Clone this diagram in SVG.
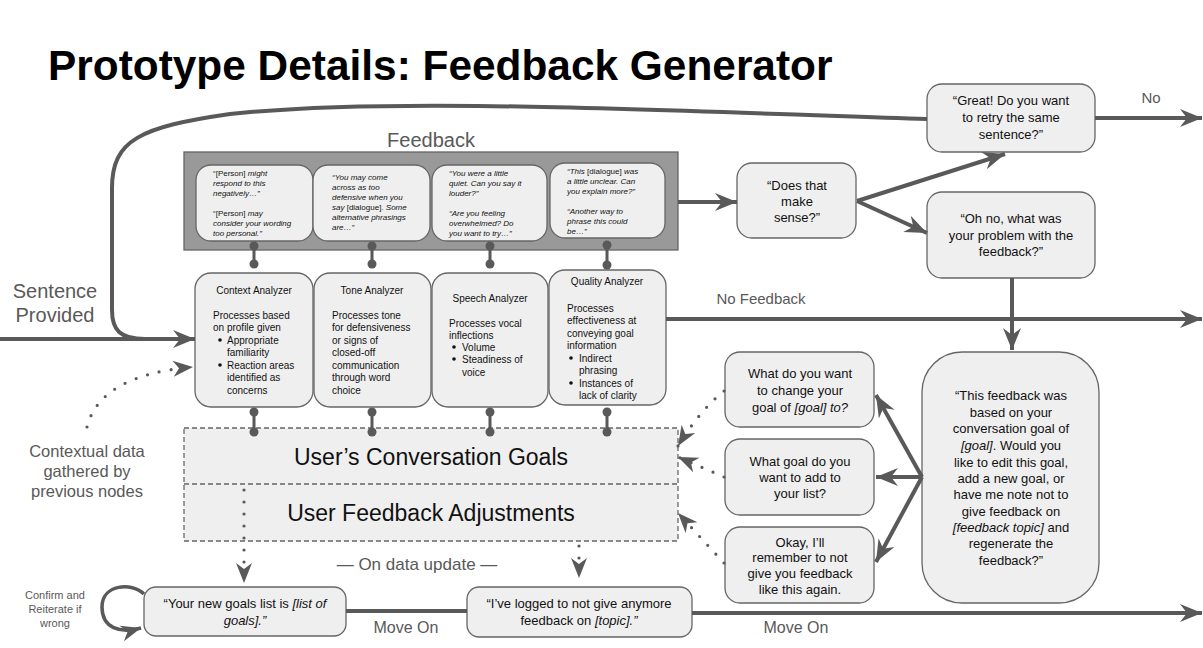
<svg xmlns="http://www.w3.org/2000/svg" width="1203" height="648" viewBox="0 0 1203 648">
<defs>
<style>
.box{fill:#efefef;stroke:#666;stroke-width:1.3}
.t{font-family:"Liberation Sans",Arial,sans-serif;fill:#111}
.c{text-anchor:middle}
.i{font-style:italic}
.n{font-style:normal}
.lbl{font-family:"Liberation Sans",Arial,sans-serif;fill:#595959}
.ln{fill:none;stroke:#595959;stroke-width:4}
.ln3{fill:none;stroke:#595959;stroke-width:3.5}
.dot{fill:none;stroke:#595959;stroke-width:3.2;stroke-dasharray:0 12;stroke-linecap:round}
.pin{fill:#595959}
</style>
<marker id="ah" markerUnits="userSpaceOnUse" markerWidth="24" markerHeight="20" viewBox="0 0 24 20" refX="22" refY="10" orient="auto"><path d="M0,1 L22,10 L0,19 L7,10 z" fill="#595959"/></marker>
<marker id="ahs" markerUnits="userSpaceOnUse" markerWidth="22" markerHeight="18" viewBox="0 0 22 18" refX="20" refY="9" orient="auto"><path d="M0,1 L20,9 L0,17 L6,9 z" fill="#595959"/></marker>
</defs>
<rect width="1203" height="648" fill="#fff"/>
<text x="48" y="80" font-family="Liberation Sans,Arial,sans-serif" font-weight="bold" font-size="42.4" fill="#000">Prototype Details: Feedback Generator</text>

<g id="labels">
<text class="lbl c" x="55" y="298" font-size="20">Sentence</text>
<text class="lbl c" x="55" y="322" font-size="20">Provided</text>
<text class="lbl c" x="431" y="147" font-size="20">Feedback</text>
<text class="lbl c" x="1151" y="103" font-size="15">No</text>
<text class="lbl c" x="761" y="304" font-size="15">No Feedback</text>
<text class="lbl c" x="87" y="457" font-size="16.5">Contextual data</text>
<text class="lbl c" x="87" y="477" font-size="16.5">gathered by</text>
<text class="lbl c" x="87" y="497" font-size="16.5">previous nodes</text>
<text class="lbl c" x="417" y="570" font-size="17">— On data update —</text>
<text class="lbl c" x="406" y="633" font-size="16">Move On</text>
<text class="lbl c" x="796" y="633" font-size="16">Move On</text>
<text class="lbl c" x="55" y="599" font-size="11">Confirm and</text>
<text class="lbl c" x="55" y="613" font-size="11">Reiterate if</text>
<text class="lbl c" x="55" y="627" font-size="11">wrong</text>
</g>

<g id="feedback">
<rect x="184" y="152" width="494" height="98" fill="#999" stroke="#666" stroke-width="1.3"/>
<rect class="box" x="196" y="165" width="117" height="76" rx="15"/>
<rect class="box" x="313" y="165" width="117" height="76" rx="15"/>
<rect class="box" x="432" y="165" width="115" height="76" rx="15"/>
<rect class="box" x="550" y="163" width="115" height="75" rx="15"/>
<g class="t i" font-size="8" fill="#222">
<text x="213" y="176"><tspan class="n">“[Person]</tspan> might</text>
<text x="213" y="186">respond to this</text>
<text x="213" y="196">negatively…”</text>
<text x="213" y="216"><tspan class="n">“[Person]</tspan> may</text>
<text x="213" y="226">consider your wording</text>
<text x="213" y="236">too personal.”</text>
<text x="332" y="180">“You may come</text>
<text x="332" y="190">across as too</text>
<text x="332" y="200">defensive when you</text>
<text x="332" y="210">say <tspan class="n">[dialogue]</tspan>. Some</text>
<text x="332" y="220">alternative phrasings</text>
<text x="332" y="230">are…”</text>
<text x="449" y="176">“You were a little</text>
<text x="449" y="186">quiet. Can you say it</text>
<text x="449" y="196">louder?”</text>
<text x="449" y="216">“Are you feeling</text>
<text x="449" y="226">overwhelmed? Do</text>
<text x="449" y="236">you want to try…”</text>
<text x="567" y="174">“This <tspan class="n">[dialogue]</tspan> was</text>
<text x="567" y="184">a little unclear. Can</text>
<text x="567" y="194">you explain more?”</text>
<text x="567" y="214">“Another way to</text>
<text x="567" y="224">phrase this could</text>
<text x="567" y="234">be…”</text>
</g>
</g>

<g id="context-analyzer">
<rect class="box" x="195" y="273" width="118" height="134" rx="16"/>
<g class="t" font-size="10">
<text class="c" x="254" y="294">Context Analyzer</text>
<text x="213" y="319">Processes based</text>
<text x="213" y="331">on profile given</text>
<circle cx="220" cy="340" r="1.8" fill="#111"/>
<text x="227" y="344">Appropriate</text>
<text x="227" y="356">familiarity</text>
<circle cx="220" cy="365" r="1.8" fill="#111"/>
<text x="227" y="369">Reaction areas</text>
<text x="227" y="381">identified as</text>
<text x="227" y="394">concerns</text>
</g>
</g>
<g id="tone-analyzer">
<rect class="box" x="314" y="273" width="117" height="134" rx="16"/>
<g class="t" font-size="10">
<text class="c" x="372" y="294">Tone Analyzer</text>
<text x="332" y="319">Processes tone</text>
<text x="332" y="331">for defensiveness</text>
<text x="332" y="344">or signs of</text>
<text x="332" y="356">closed-off</text>
<text x="332" y="369">communication</text>
<text x="332" y="381">through word</text>
<text x="332" y="394">choice</text>
</g>
</g>
<g id="speech-analyzer">
<rect class="box" x="432" y="273" width="116" height="134" rx="16"/>
<g class="t" font-size="10">
<text class="c" x="490" y="302">Speech Analyzer</text>
<text x="449" y="327">Processes vocal</text>
<text x="449" y="339">inflections</text>
<circle cx="454" cy="347" r="1.8" fill="#111"/>
<text x="462" y="351">Volume</text>
<circle cx="454" cy="359" r="1.8" fill="#111"/>
<text x="462" y="363">Steadiness of</text>
<text x="462" y="376">voice</text>
</g>
</g>
<g id="quality-analyzer">
<rect class="box" x="549" y="270" width="117" height="135" rx="16"/>
<g class="t" font-size="10">
<text class="c" x="607" y="285">Quality Analyzer</text>
<text x="567" y="312">Processes</text>
<text x="567" y="324">effectiveness at</text>
<text x="567" y="337">conveying goal</text>
<text x="567" y="349">information</text>
<circle cx="571" cy="358" r="1.8" fill="#111"/>
<text x="579" y="362">Indirect</text>
<text x="579" y="374">phrasing</text>
<circle cx="571" cy="383" r="1.8" fill="#111"/>
<text x="579" y="387">Instances of</text>
<text x="579" y="399">lack of clarity</text>
</g>
</g>

<g id="user-data">
<rect x="184" y="428" width="494" height="113" fill="#efefef" stroke="#666" stroke-width="1.3" stroke-dasharray="5 3"/>
<line x1="184" y1="484" x2="678" y2="484" stroke="#666" stroke-width="1.3" stroke-dasharray="5 3"/>
<text class="t c" x="431" y="465" font-size="23">User’s Conversation Goals</text>
<text class="t c" x="431" y="521" font-size="23">User Feedback Adjustments</text>
</g>

<g id="does-that-make-sense">
<rect class="box" x="737" y="163" width="119" height="75" rx="15"/>
<g class="t c" font-size="13">
<text x="797" y="190">“Does that</text>
<text x="797" y="206">make</text>
<text x="797" y="222">sense?”</text>
</g>
</g>
<g id="great">
<rect class="box" x="927" y="84" width="168" height="68" rx="15"/>
<g class="t c" font-size="13">
<text x="1011" y="105">“Great! Do you want</text>
<text x="1011" y="122">to retry the same</text>
<text x="1011" y="139">sentence?”</text>
</g>
</g>
<g id="oh-no">
<rect class="box" x="927" y="192" width="168" height="86" rx="15"/>
<g class="t c" font-size="13">
<text x="1011" y="223">“Oh no, what was</text>
<text x="1011" y="240">your problem with the</text>
<text x="1011" y="256">feedback?”</text>
</g>
</g>
<g id="this-feedback">
<rect class="box" x="922" y="352" width="177" height="251" rx="40"/>
<g class="t c" font-size="13">
<text x="1011" y="400">“This feedback was</text>
<text x="1011" y="417">based on your</text>
<text x="1011" y="433">conversation goal of</text>
<text x="1011" y="450"><tspan class="i">[goal]</tspan>. Would you</text>
<text x="1011" y="467">like to edit this goal,</text>
<text x="1011" y="483">add a new goal, or</text>
<text x="1011" y="499">have me note not to</text>
<text x="1011" y="516">give feedback on</text>
<text x="1011" y="532"><tspan class="i">[feedback topic]</tspan> and</text>
<text x="1011" y="548">regenerate the</text>
<text x="1011" y="565">feedback?”</text>
</g>
</g>
<g id="change-goal">
<rect class="box" x="725" y="352" width="149" height="75" rx="15"/>
<g class="t c" font-size="13">
<text x="800" y="378">What do you want</text>
<text x="800" y="395">to change your</text>
<text x="800" y="412">goal of <tspan class="i">[goal] to?</tspan></text>
</g>
</g>
<g id="add-goal">
<rect class="box" x="725" y="439" width="149" height="76" rx="15"/>
<g class="t c" font-size="13">
<text x="800" y="466">What goal do you</text>
<text x="800" y="482">want to add to</text>
<text x="800" y="498">your list?</text>
</g>
</g>
<g id="remember">
<rect class="box" x="725" y="527" width="149" height="76" rx="15"/>
<g class="t c" font-size="13">
<text x="800" y="547">Okay, I’ll</text>
<text x="800" y="562">remember to not</text>
<text x="800" y="578">give you feedback</text>
<text x="800" y="594">like this again.</text>
</g>
</g>
<g id="new-goals-list">
<rect class="box" x="144" y="587" width="202" height="49" rx="12"/>
<g class="t c" font-size="13">
<text x="245" y="608">“Your new goals list is <tspan class="i">[list of</tspan></text>
<text x="245" y="625" class="i">goals].”</text>
</g>
</g>
<g id="logged">
<rect class="box" x="467" y="587" width="225" height="50" rx="12"/>
<g class="t c" font-size="13">
<text x="579" y="608">“I’ve logged to not give anymore</text>
<text x="579" y="625">feedback on <tspan class="i">[topic].”</tspan></text>
</g>
</g>

<g id="connectors">
<path class="ln" d="M0,339 L195,339" marker-end="url(#ah)"/>
<path class="ln" d="M145,339 C120,339 112,330 112,310 L112,188 C112,140 140,127 230,114 C380,98 600,108 927,119"/>
<path class="dot" d="M87,427 Q100,375 193,367" marker-end="url(#ahs)"/>
<path class="ln" d="M678,202 L737,202" marker-end="url(#ah)"/>
<path class="ln" d="M857,201 L1005,154" marker-end="url(#ah)"/>
<path class="ln" d="M857,201 L927,233" marker-end="url(#ah)"/>
<path class="ln" d="M1095,118 L1202,118" marker-end="url(#ah)"/>
<path class="ln" d="M666,319 L1202,319" marker-end="url(#ah)"/>
<path class="ln" d="M1012,278 L1012,350" marker-end="url(#ah)"/>
<path class="ln" d="M922,477 L876,395" marker-end="url(#ah)"/>
<path class="ln" d="M922,477 L876,477" marker-end="url(#ah)"/>
<path class="ln" d="M922,477 L876,562" marker-end="url(#ah)"/>
<path class="dot" d="M724,391 Q700,410 678,446" marker-end="url(#ahs)"/>
<path class="dot" d="M724,477 L678,457" marker-end="url(#ahs)"/>
<path class="dot" d="M724,563 L678,513" marker-end="url(#ahs)"/>
<path class="dot" d="M244,490 L244,583" marker-end="url(#ahs)"/>
<path class="dot" d="M579,546 L579,578" marker-end="url(#ahs)"/>
<path class="ln" d="M346,611 L467,611"/>
<path class="ln" d="M692,613 L1202,613" marker-end="url(#ah)"/>
<path class="ln3" d="M144,594 C132,582 102,584 102,607 C102,628 120,634 141,628" marker-end="url(#ahs)"/>
<g>
<path d="M254,246 V264 M372,246 V264 M490,246 V264 M607,245 V265 M254,412 V432 M372,412 V432 M490,412 V432 M607,412 V432" stroke="#595959" stroke-width="3"/>
<circle class="pin" cx="254" cy="246" r="4.5"/><circle class="pin" cx="254" cy="264" r="4.5"/>
<circle class="pin" cx="372" cy="246" r="4.5"/><circle class="pin" cx="372" cy="264" r="4.5"/>
<circle class="pin" cx="490" cy="246" r="4.5"/><circle class="pin" cx="490" cy="264" r="4.5"/>
<circle class="pin" cx="607" cy="245" r="4.5"/><circle class="pin" cx="607" cy="265" r="4.5"/>
<circle class="pin" cx="254" cy="412" r="4.5"/><circle class="pin" cx="254" cy="432" r="4.5"/>
<circle class="pin" cx="372" cy="412" r="4.5"/><circle class="pin" cx="372" cy="432" r="4.5"/>
<circle class="pin" cx="490" cy="412" r="4.5"/><circle class="pin" cx="490" cy="432" r="4.5"/>
<circle class="pin" cx="607" cy="412" r="4.5"/><circle class="pin" cx="607" cy="432" r="4.5"/>
</g>
</g>
</svg>
